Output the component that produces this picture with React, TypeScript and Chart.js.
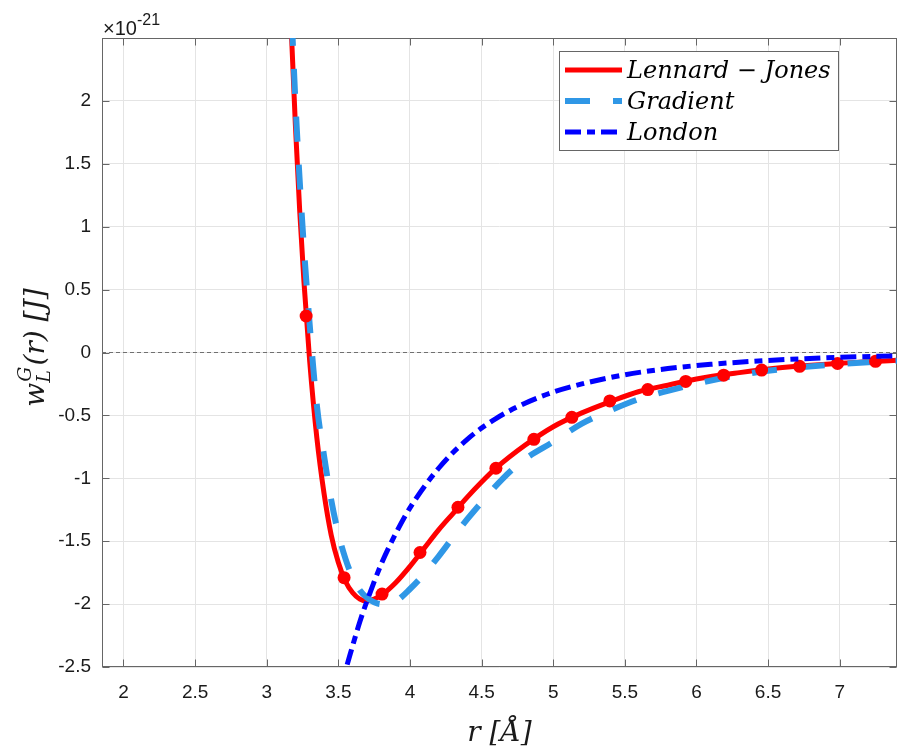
import { useEffect, useRef } from "react";
import { Chart, registerables } from "chart.js";

Chart.register(...registerables);

// ---- data (energies in units of 1e-21 J, distances in Å) ----
const xTicks = [2, 2.5, 3, 3.5, 4, 4.5, 5, 5.5, 6, 6.5, 7];
const yTicks = [-2.5, -2, -1.5, -1, -0.5, 0, 0.5, 1, 1.5, 2];

const rLJ = [3.15, 3.17, 3.2, 3.23, 3.26, 3.3, 3.35, 3.4, 3.45, 3.5, 3.55, 3.6, 3.65, 3.7, 3.75, 3.8, 3.9, 4.0, 4.1, 4.2, 4.3, 4.4, 4.5, 4.6, 4.8, 5.0, 5.2, 5.4, 5.6, 5.8, 6.0, 6.3, 6.6, 7.0, 7.4];
const wLJ = [3.21, 2.6, 1.81, 1.13, 0.56, -0.07, -0.68, -1.12, -1.45, -1.67, -1.82, -1.91, -1.96, -1.975, -1.96, -1.93, -1.83, -1.7, -1.555, -1.41, -1.28, -1.15, -1.03, -0.92, -0.74, -0.59, -0.48, -0.39, -0.31, -0.26, -0.21, -0.16, -0.12, -0.085, -0.061];

const rMk = [3.275, 3.54, 3.805, 4.07, 4.335, 4.6, 4.865, 5.13, 5.395, 5.66, 5.925, 6.19, 6.455, 6.72, 6.985, 7.25];
const wMk = [0.29, -1.79, -1.92, -1.59, -1.23, -0.92, -0.69, -0.515, -0.385, -0.295, -0.23, -0.18, -0.14, -0.11, -0.087, -0.07];

const rGr = [3.15, 3.17, 3.2, 3.25, 3.3, 3.35, 3.4, 3.45, 3.5, 3.55, 3.6, 3.65, 3.7, 3.75, 3.8, 3.85, 3.9, 4.0, 4.1, 4.2, 4.3, 4.4, 4.5, 4.65, 4.8, 5.0, 5.2, 5.4, 5.6, 5.8, 6.0, 6.3, 6.6, 7.0, 7.4];
const wGr = [3.4, 2.8, 2.0, 1.0, 0.22, -0.42, -0.82, -1.17, -1.44, -1.64, -1.79, -1.89, -1.95, -1.985, -2.0, -2.0, -1.98, -1.88, -1.76, -1.62, -1.47, -1.325, -1.19, -1.0, -0.85, -0.71, -0.565, -0.46, -0.37, -0.305, -0.248, -0.178, -0.132, -0.092, -0.066];

const rLo = [3.5, 3.55, 3.6, 3.65, 3.7, 3.8, 3.9, 4.0, 4.2, 4.4, 4.6, 4.8, 5.0, 5.2, 5.5, 5.8, 6.1, 6.5, 7.0, 7.4];
const wLo = [-2.76, -2.53, -2.33, -2.14, -1.975, -1.68, -1.44, -1.235, -0.92, -0.69, -0.525, -0.405, -0.315, -0.25, -0.177, -0.128, -0.094, -0.063, -0.038, -0.027];

const rZero = [1.85, 7.4];
const wZero = [0, 0];

const seriesNames = ["Lennard \u2212 Jones", "Gradient", "London"];

// ---- styles ----
const RED = "#ff0000";
const LIGHTBLUE = "#2f97e6";
const BLUE = "#0000ff";
const AXIS = "#666666";
const GRID = "#e4e4e4";
const TEXT = "#1a1a1a";
const SERIF = '"DejaVu Serif", "Liberation Serif", serif';
const SANS = '"Liberation Sans", Arial, sans-serif';
const GR_DASH = [25, 23];
const LO_DASH = [16, 6, 8, 6];

const pts = (xs: number[], ys: number[]) => xs.map((x, i) => ({ x, y: ys[i] }));

const decor = {
  id: "decor",
  beforeDatasetsDraw(chart: any) {
    const { ctx, chartArea: a, scales } = chart;
    ctx.save();
    ctx.strokeStyle = AXIS;
    ctx.lineWidth = 1;
    const L = Math.round(a.left) + 0.5;
    const R = Math.round(a.right) - 0.5;
    const T = Math.round(a.top) + 0.5;
    const B = Math.round(a.bottom) - 0.5;
    ctx.strokeRect(L, T, R - L, B - T);
    ctx.beginPath();
    for (const v of xTicks) {
      const px = Math.round(scales.x.getPixelForValue(v)) + 0.5;
      ctx.moveTo(px, B); ctx.lineTo(px, B - 7);
      ctx.moveTo(px, T); ctx.lineTo(px, T + 7);
    }
    for (const v of yTicks) {
      const py = Math.round(scales.y.getPixelForValue(v)) + 0.5;
      ctx.moveTo(L, py); ctx.lineTo(L + 7, py);
      ctx.moveTo(R, py); ctx.lineTo(R - 7, py);
    }
    ctx.stroke();
    ctx.restore();
  },
  afterDraw(chart: any) {
    const { ctx, chartArea: a } = chart;
    ctx.save();
    ctx.fillStyle = TEXT;
    ctx.textBaseline = "alphabetic";
    ctx.textAlign = "left";

    // exponent label
    ctx.font = `20px ${SANS}`;
    const t1 = "\u00d710";
    ctx.fillText(t1, a.left + 1, 35);
    const w1 = ctx.measureText(t1).width;
    ctx.font = `16px ${SANS}`;
    ctx.fillText("-21", a.left + 1 + w1, 25);

    // x title
    ctx.font = `italic 28px ${SERIF}`;
    ctx.textAlign = "center";
    ctx.fillText("r [\u00c5]", (a.left + a.right) / 2, 741);

    // y title (rotated)
    ctx.save();
    ctx.translate(44, (a.top + a.bottom) / 2 - 5);
    ctx.rotate(-Math.PI / 2);
    ctx.textAlign = "left";
    const big = `italic 28px ${SERIF}`;
    const small = `italic 19px ${SERIF}`;
    ctx.font = big;
    const ww = ctx.measureText("w").width;
    ctx.font = small;
    const wsub = Math.max(ctx.measureText("L").width, ctx.measureText("G").width);
    ctx.font = big;
    const rest = "(r) [J]";
    const wr = ctx.measureText(rest).width;
    const total = ww + wsub + 2 + wr;
    let x0 = -total / 2;
    ctx.fillText("w", x0, 0);
    x0 += ww;
    ctx.font = small;
    ctx.fillText("L", x0, 6);
    ctx.fillText("G", x0 + 1, -13);
    x0 += wsub + 2;
    ctx.font = big;
    ctx.fillText(rest, x0, 0);
    ctx.restore();

    // legend
    const bx = 559.5, by = 51.5, bw = 279, bh = 99;
    ctx.fillStyle = "#ffffff";
    ctx.fillRect(bx, by, bw, bh);
    ctx.strokeStyle = AXIS;
    ctx.lineWidth = 1;
    ctx.strokeRect(bx, by, bw, bh);
    const rows = [70, 101, 132];
    const styles = [
      { c: RED, w: 5, d: [] as number[] },
      { c: LIGHTBLUE, w: 6, d: GR_DASH },
      { c: BLUE, w: 5, d: LO_DASH },
    ];
    rows.forEach((yy, i) => {
      ctx.beginPath();
      ctx.strokeStyle = styles[i].c;
      ctx.lineWidth = styles[i].w;
      ctx.setLineDash(styles[i].d);
      ctx.moveTo(565, yy);
      ctx.lineTo(622, yy);
      ctx.stroke();
      ctx.setLineDash([]);
      ctx.fillStyle = "#000";
      ctx.font = `italic 24px ${SERIF}`;
      ctx.textAlign = "left";
      ctx.fillText(seriesNames[i], 627, yy + 8);
    });
    ctx.restore();
  },
};

export default function App() {
  const ref = useRef<HTMLCanvasElement | null>(null);
  useEffect(() => {
    document.body.style.margin = "0";
    const canvas = ref.current!;
    const chart = new Chart(canvas, {
      type: "scatter",
      data: {
        datasets: [
          {
            label: seriesNames[2],
            data: pts(rLo, wLo),
            showLine: true,
            borderColor: BLUE,
            borderWidth: 5,
            borderDash: LO_DASH,
            pointRadius: 0,
            cubicInterpolationMode: "monotone",
            clip: 0,
          },
          {
            label: "markers",
            data: pts(rMk, wMk),
            showLine: false,
            pointRadius: 6.5,
            pointBackgroundColor: RED,
            pointBorderColor: RED,
            pointBorderWidth: 0,
            clip: 0,
          },
          {
            label: seriesNames[1],
            data: pts(rGr, wGr),
            showLine: true,
            borderColor: LIGHTBLUE,
            borderWidth: 6,
            borderDash: GR_DASH,
            pointRadius: 0,
            cubicInterpolationMode: "monotone",
            clip: 0,
          },
          {
            label: seriesNames[0],
            data: pts(rLJ, wLJ),
            showLine: true,
            borderColor: RED,
            borderWidth: 5,
            borderJoinStyle: "round",
            pointRadius: 0,
            cubicInterpolationMode: "monotone",
            clip: 0,
          },
          {
            label: "zero",
            data: pts(rZero, wZero),
            showLine: true,
            borderColor: "#707070",
            borderWidth: 1,
            borderDash: [4, 3],
            pointRadius: 0,
            clip: 0,
          },
        ],
      } as any,
      options: {
        animation: false,
        responsive: false,
        devicePixelRatio: 1,
        layout: { autoPadding: false, padding: { left: 0, right: 1, top: 38, bottom: 0 } },
        plugins: { legend: { display: false }, tooltip: { enabled: false } },
        scales: {
          x: {
            type: "linear",
            min: 1.85,
            max: 7.4,
            border: { display: false },
            grid: { color: GRID, drawTicks: false, lineWidth: 1 },
            ticks: {
              padding: 14,
              color: TEXT,
              font: { family: SANS, size: 19 },
              maxRotation: 0,
              callback: (v: any) => String(v),
            },
            afterBuildTicks: (s: any) => {
              s.ticks = xTicks.map((v) => ({ value: v }));
            },
            afterFit: (s: any) => {
              s.height = 87;
              s.paddingLeft = 0;
              s.paddingRight = 0;
            },
          },
          y: {
            type: "linear",
            min: -2.5,
            max: 2.5,
            border: { display: false },
            grid: { color: GRID, drawTicks: false, lineWidth: 1 },
            ticks: {
              padding: 11,
              color: TEXT,
              font: { family: SANS, size: 19 },
              callback: (v: any) => String(v),
            },
            afterBuildTicks: (s: any) => {
              s.ticks = yTicks.map((v) => ({ value: v }));
            },
            afterFit: (s: any) => {
              s.width = 102;
              s.paddingTop = 0;
              s.paddingBottom = 0;
            },
          },
        },
      } as any,
      plugins: [decor],
    });
    return () => chart.destroy();
  }, []);
  return (
    <div style={{ width: 898, height: 754, position: "relative", background: "#fff" }}>
      <canvas ref={ref} width={898} height={754} />
    </div>
  );
}
